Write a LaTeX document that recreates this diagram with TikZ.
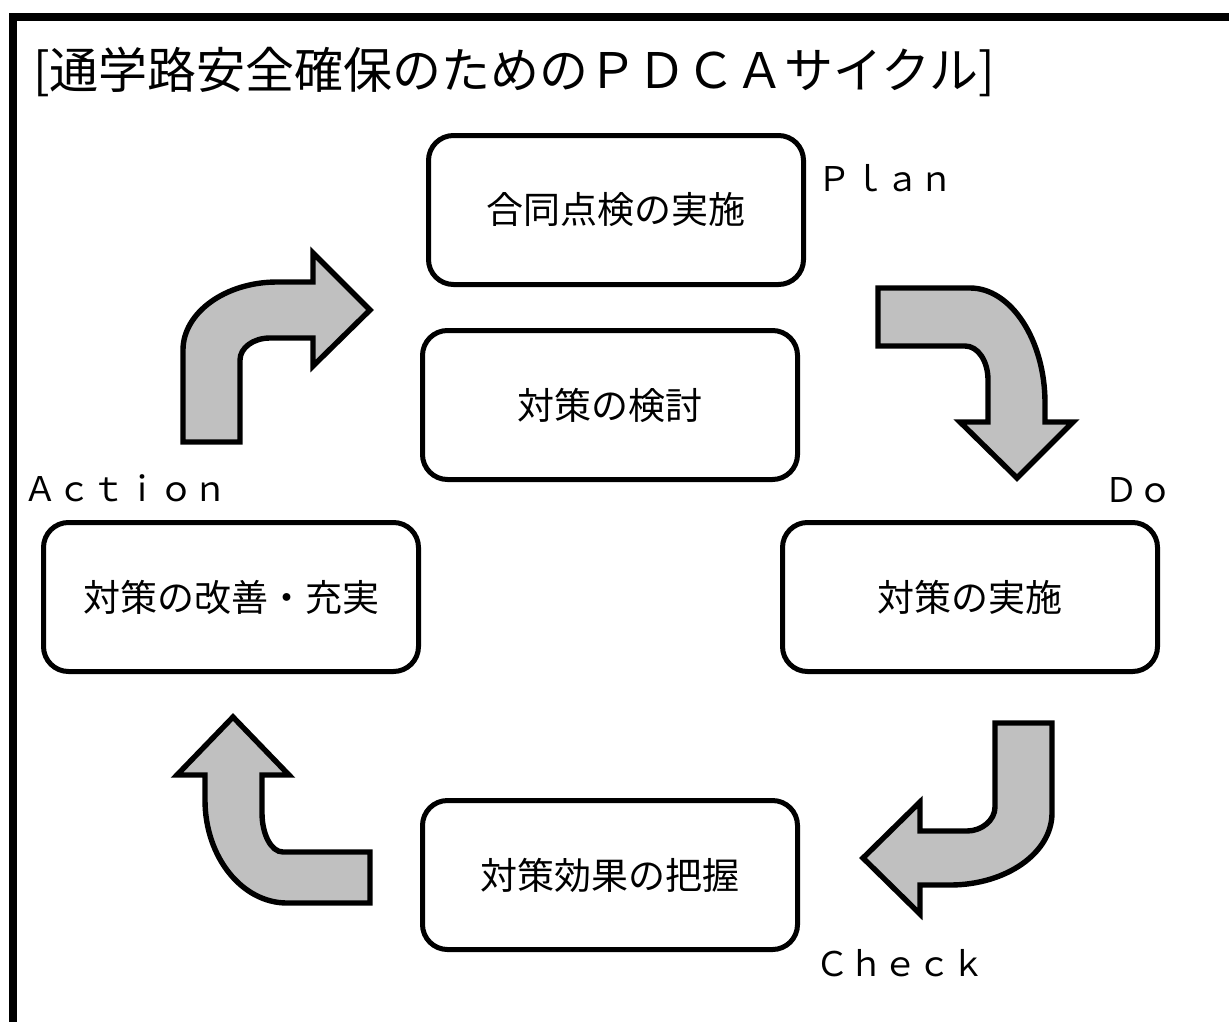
\documentclass[tikz,border=0pt]{standalone}
\usepackage{fontspec}
\setmainfont{Noto Sans CJK JP}
\definecolor{arrowgray}{RGB}{192,192,192}

\begin{document}
\begin{tikzpicture}[x=0.5pt,y=-0.5pt,
		stepbox/.style={draw, line width=2.5pt, rounded corners=12.5pt, minimum width=187.5pt, minimum height=74.5pt, font=\fontsize{18.5}{22}\selectfont},
		phase/.style={inner sep=0pt, font=\fontsize{17}{20}\selectfont},
		bent/.style={draw, line width=2.7pt, fill=arrowgray}]
		\useasboundingbox (0,0) rectangle (1229,1022);
		
		% Frame and title
		\draw[line width=4pt] (1229,17) -| (13,1022);
		\node[anchor=west, inner sep=0pt, font=\fontsize{24.5}{28}\selectfont] (T) at (33,72) {[通学路安全確保のためのＰＤＣＡサイクル]};
		
		% Nodes
		\node[stepbox] (goudou) at (616,210) {合同点検の実施};
		\node[stepbox] (kentou) at (610,405) {対策の検討};
		\node[stepbox] (kaizen) at (231,597) {対策の改善・充実};
		\node[stepbox] (jisshi) at (970,597) {対策の実施};
		\node[stepbox] (haaku) at (610,875) {対策効果の把握};
		
		% Phase labels
		\node[phase] (P) at (885,178) {Ｐｌａｎ};
		\node[phase] (D) at (1138,490) {Ｄｏ};
		\node[phase] (A) at (125,488) {Ａｃｔｉｏｎ};
		\node[phase] (C) at (900,963) {Ｃｈｅｃｋ};
		
		% Arrows
		\draw[bent] (183,442) -- (183,350) .. controls (183,313) and (225,282) .. (277,282) -- (313,282) -- (313,253) -- (370,310) -- (313,366) -- (313,338) -- (270,338) .. controls (253,338) and (240,348) .. (240,360) -- (240,442) -- cycle;
		\draw[bent] (878,288) -- (970,288) .. controls (1011,288) and (1045,340) .. (1045,403) -- (1045,422) -- (1073,422) -- (1017,478) -- (960,422) -- (988,422) -- (988,380) .. controls (988,361) and (978,346) .. (965,346) -- (878,346) -- cycle;
		\draw[bent] (995,723) -- (1052,723) -- (1052,813) .. controls (1052,853) and (1006,885) .. (950,885) -- (920,885) -- (920,914) -- (863,858) -- (920,802) -- (920,831) -- (967,831) .. controls (982,831) and (995,820) .. (995,807) -- cycle;
		\draw[bent] (233,717) -- (289,775) -- (262,775) -- (262,813) .. controls (262,834) and (271,852) .. (283,852) -- (370,852) -- (370,903) -- (287,903) .. controls (242,903) and (205,857) .. (205,800) -- (205,775) -- (177,775) -- cycle;
\end{tikzpicture}
\end{document}
